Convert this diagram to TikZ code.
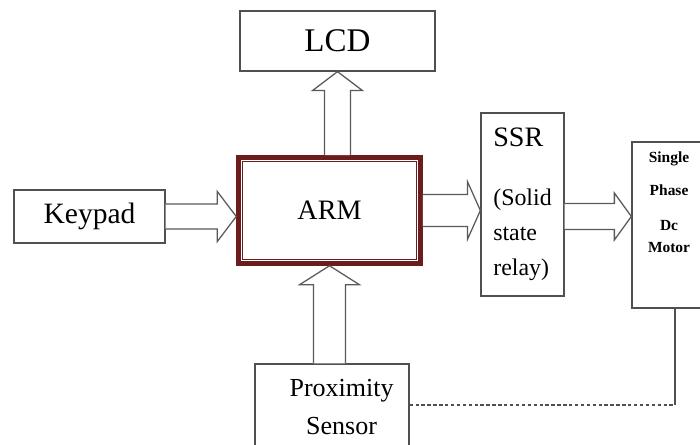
\documentclass[tikz,border=0pt]{standalone}
\usepackage{fontspec}
\setmainfont{Liberation Serif}
\usetikzlibrary{calc}

\definecolor{armred}{RGB}{107,28,28}
\definecolor{boxgray}{RGB}{80,80,80}
\definecolor{arrowgray}{RGB}{90,90,90}

\begin{document}
\begin{tikzpicture}[
    box/.style={draw=boxgray, line width=0.9pt, fill=white},
    fat/.style n args={3}{draw=arrowgray, line width=0.9pt, fill=white,
      to path={let \p1=(\tikztostart), \p2=(\tikztotarget),
        \n1={atan2(\y2-\y1,\x2-\x1)}, \n2={veclen(\x2-\x1,\y2-\y1)} in
        {[shift={(\p1)}, rotate=\n1]
          (0pt,-#1) -- ({\n2*1pt-#3},-#1) -- ({\n2*1pt-#3},-#2) -- ({\n2*1pt},0pt)
          -- ({\n2*1pt-#3},#2) -- ({\n2*1pt-#3},#1) -- (0pt,#1)}}}
  ]
    \useasboundingbox (0,0) rectangle (17.5,11.125);

    % LCD
    \node[box, minimum width=4.875cm, minimum height=1.5cm,
      font=\fontsize{23.5}{28}\selectfont](lcd) at (8.4375, 10.1){LCD};
    % ARM, double frame
    \node[draw=armred, line width=3.2pt, fill=white, minimum width=4.55cm,
      minimum height=2.65cm, font=\fontsize{20}{24}\selectfont](arm) at (8.2375, 5.8625){ARM};
    \draw[armred, line width=1pt] ([shift={(4.4pt,4.4pt)}]arm.south west)
      rectangle ([shift={(-4.4pt,-4.4pt)}]arm.north east);
    % Keypad
    \node[box, minimum width=3.775cm, minimum height=1.325cm,
      font=\fontsize{21}{25}\selectfont](keypad) at (2.2375, 5.7125){Keypad};
    % SSR
    \node[box, minimum width=2.075cm, minimum height=4.575cm, align=left,
      font=\fontsize{17}{25}\selectfont](ssr) at (13.0625, 6.0125)
      {{\fontsize{20}{24}\selectfont SSR}\\[17pt](Solid\\state\\relay)};
    % motor, runs off the right edge
    \node[box, minimum width=1.95cm, minimum height=4.15cm](motor) at (16.775, 5.5){};
    \node[font=\bfseries\fontsize{11}{16}\selectfont, align=center, anchor=north,
      inner sep=0pt](motortext) at ([xshift=-1.4pt, yshift=-7.5pt]motor.north)
      {Single\\[7pt]Phase\\[9pt]Dc\\Motor};
    % proximity sensor, runs off the bottom edge
    \node[box, minimum width=3.85cm, minimum height=2.65cm](prox) at (8.3, 0.7){};
    \node[font=\fontsize{18.5}{27}\selectfont, align=center, anchor=north,
      inner sep=0pt](proxtext) at ([xshift=6.8pt, yshift=-11pt]prox.north)
      {Proximity\\Sensor};

    % block arrows
    \draw[fat={8.9pt}{17.8pt}{13.5pt}] (keypad.east) to (keypad.east -| arm.west);
    \draw[fat={9.2pt}{17.8pt}{13.5pt}] (lcd.south |- arm.north) to (lcd.south);
    \draw[fat={11.4pt}{20.6pt}{9.2pt}] (arm.east) to (arm.east -| ssr.west);
    \draw[fat={9.2pt}{16.7pt}{12.1pt}] (ssr.east |- keypad.east) to (motor.west |- keypad.east);
    \draw[fat={11.4pt}{21.3pt}{13.5pt}] (arm.south |- prox.north) to (arm.south);

    % feedback line
    \coordinate (bend) at (16.875, 1.0);
    \draw[boxgray, line width=0.9pt, dash pattern=on 2.4pt off 1.8pt]
      (prox.east |- bend) -- (bend);
    \draw[boxgray, line width=0.9pt] (bend) -- (bend |- motor.south);
\end{tikzpicture}
\end{document}
